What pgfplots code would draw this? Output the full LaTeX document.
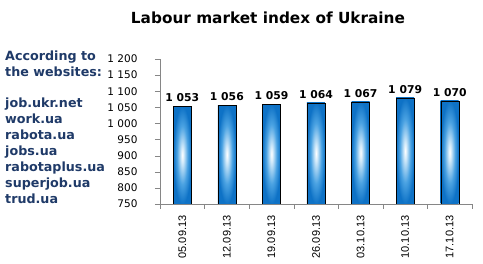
\documentclass[border=0pt]{standalone}
\usepackage{fontspec}
\setmainfont{DejaVu Sans}
\newfontfamily\arial{Liberation Sans}
\usepackage{pgfplots}
\pgfplotsset{compat=1.18}
\definecolor{navy}{HTML}{1F3A68}
\definecolor{barblue}{HTML}{0E72C6}
\definecolor{barmid}{HTML}{4AA2E2}
\definecolor{barlight}{HTML}{D2EAFA}
\definecolor{axgray}{HTML}{868686}
\pgfdeclareradialshading{barrad}{\pgfpoint{0bp}{0bp}}{color(0bp)=(white); color(4bp)=(barlight); color(15bp)=(barmid); color(25bp)=(barblue); color(50bp)=(barblue)}
\tikzset{barstyle/.style={draw=black, shade, shading=barrad}}
\begin{document}
\begin{tikzpicture}
\path[use as bounding box] (0,0) rectangle (483pt,264pt);
\node[font=\fontsize{15.3}{18}\selectfont\bfseries] at (268pt,246pt) {Labour market index of Ukraine};
\node[anchor=north west, align=left, text=navy, font=\fontsize{12.7}{16}\selectfont\bfseries, inner sep=0pt] at (5pt,213pt)
 {According to\\the websites:\\[15pt]job.ukr.net\\work.ua\\rabota.ua\\jobs.ua\\rabotaplus.ua\\superjob.ua\\trud.ua};
\begin{axis}[
  at={(160pt,60pt)}, anchor=south west,
  scale only axis, width=312pt, height=145pt,
  xmin=-0.5, xmax=6.5, ymin=750, ymax=1200,
  ytick={750,800,...,1200},
  axis lines*=left,
  axis line style={axgray},
  tick style={axgray},
  tick align=outside,
  major tick length=5pt, minor tick length=5pt,
  xtick={0,...,6},
  xticklabels={05.09.13,12.09.13,19.09.13,26.09.13,03.10.13,10.10.13,17.10.13},
  major x tick style={draw=none},
  minor xtick={-0.5,0.5,...,6.5},
  x tick label style={rotate=90, anchor=east, xshift=-3pt, font=\arial\fontsize{11}{12}\selectfont},
  y tick label style={font=\fontsize{10.5}{12}\selectfont, xshift=-14pt},
  /pgf/number format/assume math mode=true,
  /pgf/number format/1000 sep={\ },
  ybar, bar width=18pt, bar shift=0pt,
  nodes near coords,
  nodes near coords style={font=\fontsize{10.8}{12}\selectfont\bfseries, text=black, yshift=1pt},
]
\addplot[barstyle] coordinates {(0,1053)};
\addplot[barstyle] coordinates {(1,1056)};
\addplot[barstyle] coordinates {(2,1059)};
\addplot[barstyle] coordinates {(3,1064)};
\addplot[barstyle] coordinates {(4,1067)};
\addplot[barstyle] coordinates {(5,1079)};
\addplot[barstyle] coordinates {(6,1070)};
\end{axis}
\end{tikzpicture}
\end{document}
